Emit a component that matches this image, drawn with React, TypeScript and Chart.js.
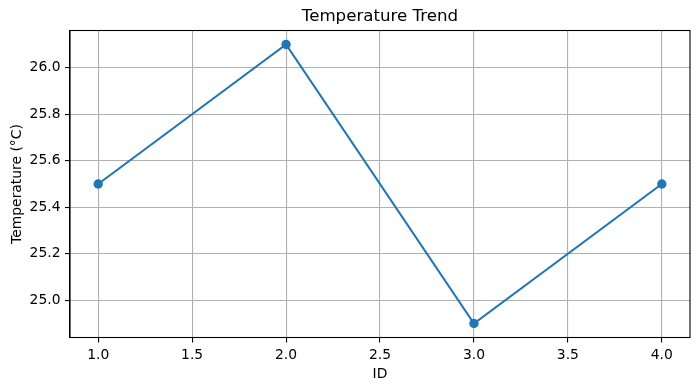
import React, { useEffect, useRef } from "react";
import { Chart, registerables } from "chart.js";

Chart.register(...registerables);

const ids = [1, 2, 3, 4];
const temperatures = [25.5, 26.1, 24.9, 25.5];
const xTicks = [1.0, 1.5, 2.0, 2.5, 3.0, 3.5, 4.0];
const yTicks = [25.0, 25.2, 25.4, 25.6, 25.8, 26.0];
const titleText = "Temperature Trend";
const xLabel = "ID";
const yLabel = "Temperature (°C)";

const FONT = "'DejaVu Sans', sans-serif";

export default function App() {
  const ref = useRef<HTMLCanvasElement | null>(null);

  useEffect(() => {
    if (!ref.current) return;
    const framePlugin = {
      id: "frame",
      afterDraw(chart: any) {
        const { ctx, chartArea } = chart;
        ctx.save();
        ctx.strokeStyle = "#000";
        ctx.lineWidth = 1.1;
        ctx.strokeRect(chartArea.left, chartArea.top, chartArea.right - chartArea.left, chartArea.bottom - chartArea.top);
        ctx.fillStyle = "#000";
        ctx.font = `16.67px ${FONT}`;
        ctx.textAlign = "center";
        ctx.textBaseline = "middle";
        ctx.fillText(titleText, (chartArea.left + chartArea.right) / 2, 16.5);
        ctx.restore();
      },
    };
    const chart = new Chart(ref.current, {
      type: "line",
      data: {
        datasets: [
          {
            data: ids.map((x, i) => ({ x, y: temperatures[i] })),
            borderColor: "#1f77b4",
            backgroundColor: "#1f77b4",
            borderWidth: 2.1,
            pointRadius: 4.7,
            pointBorderWidth: 0,
            pointBackgroundColor: "#1f77b4",
            tension: 0,
            fill: false,
          },
        ],
      },
      options: {
        animation: false,
        responsive: false,
        maintainAspectRatio: false,
        layout: { padding: { top: 30.5, right: 10, left: 0, bottom: 0 } },
        plugins: { legend: { display: false }, tooltip: { enabled: false }, title: { display: false } },
        scales: {
          x: {
            type: "linear",
            min: 0.85,
            max: 4.15,
            afterBuildTicks: (scale: any) => {
              scale.ticks = xTicks.map((v) => ({ value: v }));
            },
            afterFit: (scale: any) => {
              scale.height = 53.5;
            },
            grid: { color: "#b0b0b0", lineWidth: 1.1, tickLength: 5, tickColor: "#000", drawOnChartArea: true },
            border: { display: true, color: "#000", width: 1.1 },
            ticks: {
              color: "#000",
              font: { family: FONT, size: 13.89 },
              padding: 5,
              maxRotation: 0,
              autoSkip: false,
              callback: (v: any) => Number(v).toFixed(1),
            },
            title: {
              display: true,
              text: xLabel,
              color: "#000",
              font: { family: FONT, size: 13.89 },
              padding: { top: 0, bottom: 8.7 },
            },
          },
          y: {
            type: "linear",
            min: 24.84,
            max: 26.16,
            afterBuildTicks: (scale: any) => {
              scale.ticks = yTicks.map((v) => ({ value: v }));
            },
            afterFit: (scale: any) => {
              scale.width = 70;
            },
            grid: { color: "#b0b0b0", lineWidth: 1.1, tickLength: 5, tickColor: "#000" },
            border: { display: true, color: "#000", width: 1.1 },
            ticks: {
              color: "#000",
              font: { family: FONT, size: 13.89 },
              padding: 4.5,
              autoSkip: false,
              callback: (v: any) => Number(v).toFixed(1),
            },
            title: {
              display: true,
              text: yLabel,
              color: "#000",
              font: { family: FONT, size: 13.89 },
              padding: { top: 9, bottom: 0 },
            },
          },
        },
      },
      plugins: [framePlugin],
    } as any);
    return () => chart.destroy();
  }, []);

  return (
    <div style={{ position: "fixed", left: 0, top: 0, width: 700, height: 391, background: "#fff" }}>
      <canvas ref={ref} width={700} height={391} style={{ width: 700, height: 391, display: "block" }} />
    </div>
  );
}
